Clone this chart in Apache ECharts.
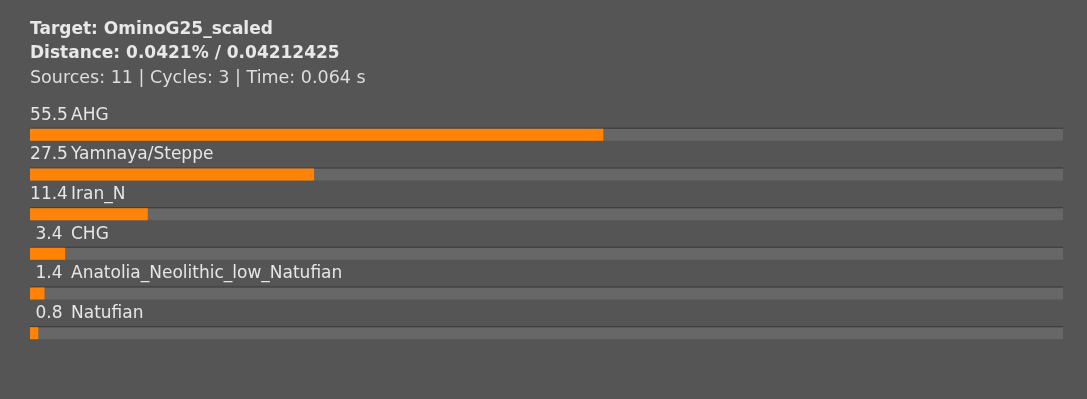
<!DOCTYPE html>
<html><head><meta charset="utf-8">
<script src="https://cdn.jsdelivr.net/npm/echarts@6/dist/echarts.min.js"></script>
<style>html,body{margin:0;padding:0;background:#555555;}#c{width:1087px;height:399px;}</style>
</head><body><div id="c"></div>
<script>
const headerLines = ["Target: OminoG25_scaled", "Distance: 0.0421% / 0.04212425", "Sources: 11 | Cycles: 3 | Time: 0.064 s"];
const categories = ["AHG", "Yamnaya/Steppe", "Iran_N", "CHG", "Anatolia_Neolithic_low_Natufian", "Natufian"];
const values = [55.5, 27.5, 11.4, 3.4, 1.4, 0.8];
const axisMax = 100;

const FONT = "DejaVu Sans";
const chart = echarts.init(document.getElementById('c'), null, {renderer: 'canvas'});
chart.setOption({
  backgroundColor: '#555555',
  animation: false,
  title: {
    left: 30, top: 18, padding: 0,
    text: '{b|' + headerLines[0] + '}\n{b|' + headerLines[1] + '}\n{n|' + headerLines[2] + '}',
    textStyle: {
      rich: {
        b: {fontFamily: FONT, fontSize: 17, fontWeight: 'bold', color: '#e8e8e8', lineHeight: 24},
        n: {fontFamily: FONT, fontSize: 17.5, fontWeight: 'normal', color: '#dedede', lineHeight: 24}
      }
    }
  },
  grid: {left: 30, right: 24, top: 115, height: 238},
  xAxis: {type: 'value', min: 0, max: axisMax, show: false},
  yAxis: {type: 'category', data: categories, inverse: true, show: false},
  series: [{
    type: 'bar',
    data: values,
    barWidth: 12,
    showBackground: true,
    backgroundStyle: {color: '#676767', shadowColor: 'rgba(0,0,0,0.35)', shadowOffsetY: -1, shadowBlur: 0},
    itemStyle: {color: '#ff8307'},
    label: {
      show: true,
      position: [0, -22],
      formatter: p => '{v|' + p.value.toFixed(1) + '}{n|' + p.name + '}',
      rich: {
        v: {fontFamily: FONT, fontSize: 17, color: '#e6e6e6', width: 38, align: 'right'},
        n: {fontFamily: FONT, fontSize: 17, color: '#e6e6e6', padding: [0, 0, 0, 3]}
      }
    }
  }]
});
</script></body></html>
